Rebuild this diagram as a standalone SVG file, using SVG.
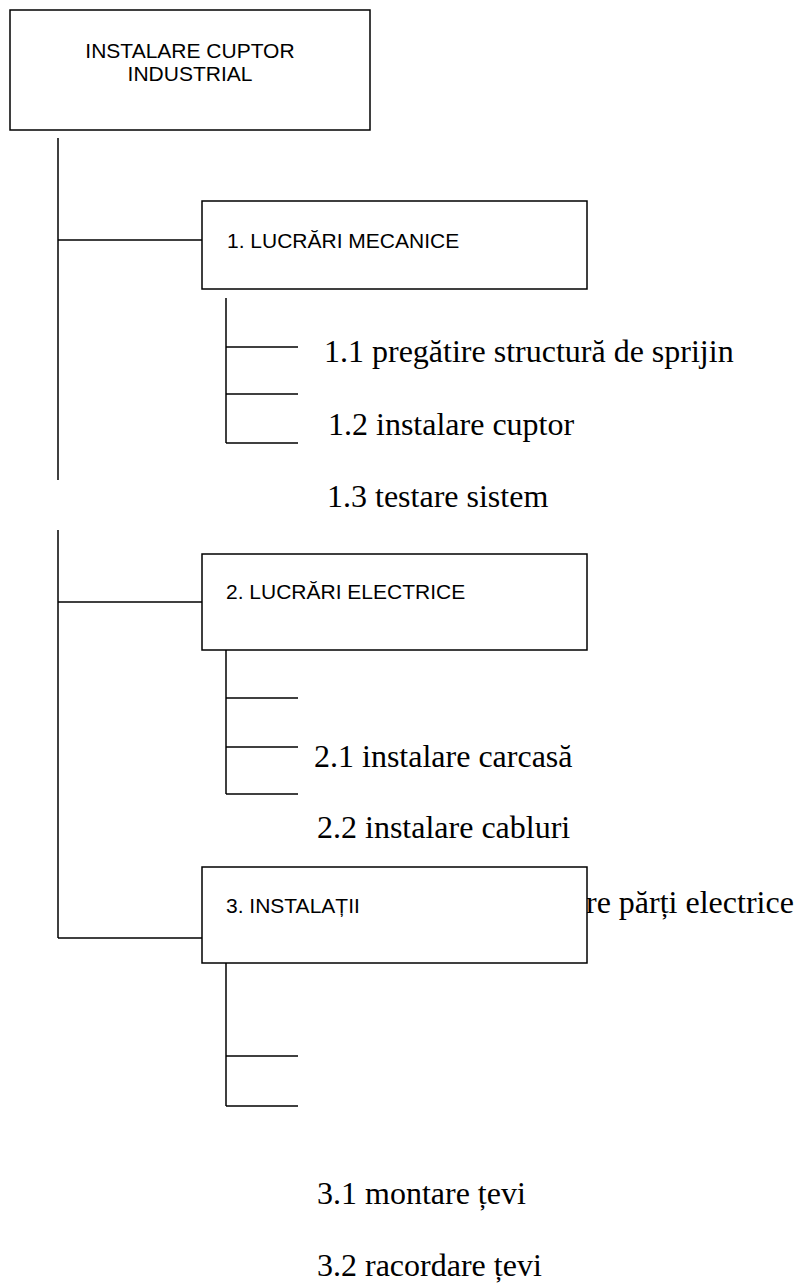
<svg xmlns="http://www.w3.org/2000/svg" width="799" height="1284" viewBox="0 0 799 1284">
  <style>
    .box { fill: #ffffff; stroke: #000000; stroke-width: 1.5; }
    .line { stroke: #000000; stroke-width: 1.5; fill: none; }
    .head { font-family: "Liberation Sans", Arial, sans-serif; font-size: 21px; fill: #000000; }
    .task { font-family: "Liberation Serif", "Times New Roman", serif; font-size: 32px; fill: #000000; }
  </style>
  <rect width="799" height="1284" fill="#ffffff"/>

  <!-- connectors -->
  <g id="connectors" class="line">
    <!-- main spine -->
    <line x1="58" y1="138" x2="58" y2="480"/>
    <line x1="58" y1="530" x2="58" y2="938"/>
    <line x1="58" y1="240" x2="202" y2="240"/>
    <line x1="58" y1="602" x2="202" y2="602"/>
    <line x1="58" y1="938" x2="202" y2="938"/>
    <!-- branch 1 -->
    <line x1="226" y1="298" x2="226" y2="443"/>
    <line x1="226" y1="347" x2="298" y2="347"/>
    <line x1="226" y1="394" x2="298" y2="394"/>
    <line x1="226" y1="443" x2="298" y2="443"/>
    <!-- branch 2 -->
    <line x1="226" y1="650" x2="226" y2="794"/>
    <line x1="226" y1="698" x2="298" y2="698"/>
    <line x1="226" y1="747" x2="298" y2="747"/>
    <line x1="226" y1="794" x2="298" y2="794"/>
    <!-- branch 3 -->
    <line x1="226" y1="963" x2="226" y2="1106"/>
    <line x1="226" y1="1056" x2="298" y2="1056"/>
    <line x1="226" y1="1106" x2="298" y2="1106"/>
  </g>

  <!-- root -->
  <g id="root">
    <rect class="box" x="10" y="10" width="360" height="120"/>
    <text class="head" x="190" y="58" text-anchor="middle">INSTALARE CUPTOR</text>
    <text class="head" x="190" y="81" text-anchor="middle">INDUSTRIAL</text>
  </g>

  <!-- 1. mechanical works -->
  <g id="node-1">
    <rect class="box" x="202" y="201" width="385" height="88"/>
    <text class="head" x="227" y="248">1. LUCRĂRI MECANICE</text>
  </g>
  <g id="tasks-1">
    <text class="task" x="324" y="362">1.1 pregătire structură de sprijin</text>
    <text class="task" x="328" y="435">1.2 instalare cuptor</text>
    <text class="task" x="327" y="507">1.3 testare sistem</text>
  </g>

  <!-- 2. electrical works -->
  <g id="node-2">
    <rect class="box" x="202" y="554" width="385" height="96"/>
    <text class="head" x="226" y="599">2. LUCRĂRI ELECTRICE</text>
  </g>
  <g id="tasks-2">
    <text class="task" x="314" y="767">2.1 instalare carcasă</text>
    <text class="task" x="317" y="838">2.2 instalare cabluri</text>
    <text class="task" x="586" y="913">re părți electrice</text>
  </g>

  <!-- 3. installations -->
  <g id="node-3">
    <rect class="box" x="202" y="867" width="385" height="96"/>
    <text class="head" x="226" y="913">3. INSTALAȚII</text>
  </g>
  <g id="tasks-3">
    <text class="task" x="317" y="1204">3.1 montare țevi</text>
    <text class="task" x="317" y="1276">3.2 racordare țevi</text>
  </g>
</svg>
